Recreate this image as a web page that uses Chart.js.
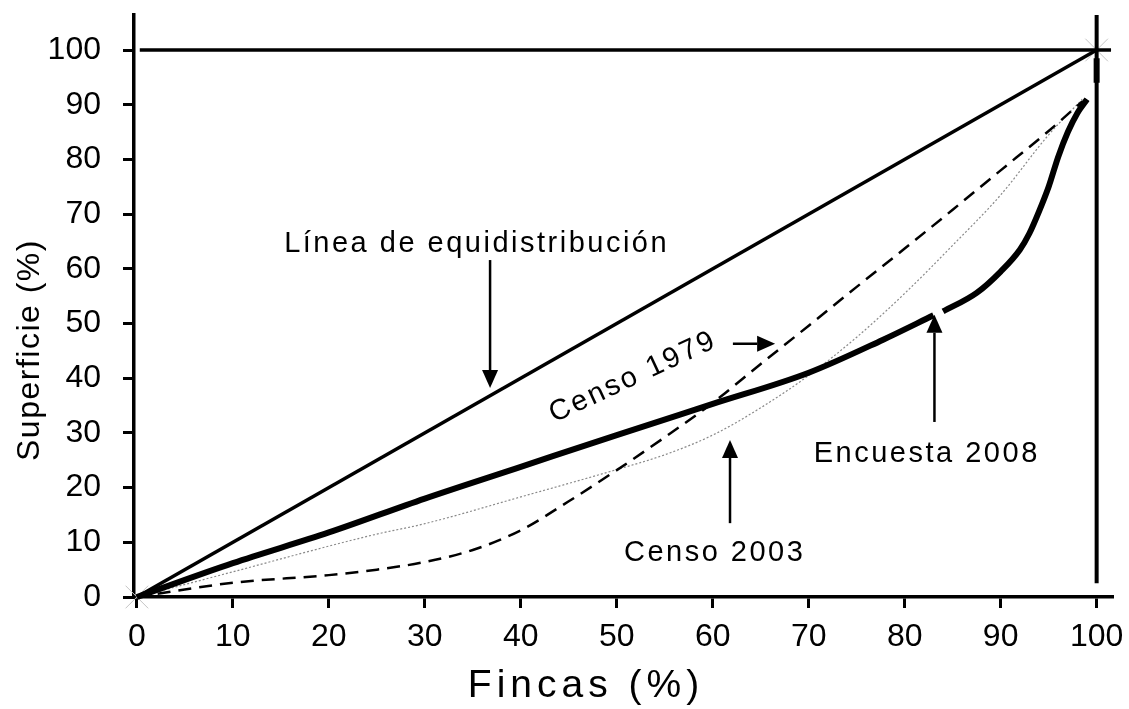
<!DOCTYPE html>
<html>
<head>
<meta charset="utf-8">
<script src="https://cdn.jsdelivr.net/npm/chart.js@4.4.1/dist/chart.umd.min.js"></script>
<style>
  html, body { margin: 0; padding: 0; background: #fff; }
  #wrap { width: 1129px; height: 709px; }
</style>
</head>
<body>
<div id="wrap"><canvas id="lorenz"></canvas></div>
<script>
// Curvas de Lorenz – fincas vs superficie

// Tick labels
const fincasTicks = [0, 10, 20, 30, 40, 50, 60, 70, 80, 90, 100];
const superficieTicks = [0, 10, 20, 30, 40, 50, 60, 70, 80, 90, 100];

// Línea de equidistribución
const equiX = [0, 100];
const equiY = [0, 100];

// Censo 1979 (dashed)
const censo1979X = [0, 10, 20, 25, 30, 35, 40, 45, 50, 55, 60, 65, 70, 75, 80, 85, 90, 95, 98.5];
const censo1979Y = [0, 2.6, 4, 5, 6.4, 8.6, 12.2, 17.5, 23.2, 29.2, 35.5, 42.6, 49.6, 56.7, 63.7, 70.8, 78, 85.2, 90.6];

// Censo 2003 (thin dotted grey)
const censo2003X = [0, 10, 20, 25, 30, 40, 50, 55, 60, 65, 70, 75, 80, 85, 90, 95, 98.5];
const censo2003Y = [0, 4.6, 9.3, 11.5, 13.4, 18.3, 23.3, 26, 29.6, 34.6, 40.5, 47.5, 55.5, 64.3, 73.5, 84.5, 91];

// Encuesta 2008 (thick) – null marks the small breaks in the curve
const encuestaX = [0, 10, 20, 30, 40, 50, 60, 70, 77.7, 83, 84, 84, 87.5, 90, 92, 93, 94, 95, 96, 97, 98, 99, 99.5, 100, 100];
const encuestaY = [0, 6.2, 11.8, 18, 23.8, 29.6, 35.3, 41, 47, 51.5, null, 52.2, 55.6, 59.5, 63.5, 66.5, 70.5, 75, 80.5, 85, 88.5, 91, null, 94, 98.5];

// Marco superior y derecho
const topLineX = [0.3, 101.5];
const topLineY = [100, 100];
const rightLineX = [100, 100];
const rightLineY = [2.5, 106.4];

// Marcas en los extremos
const endMarkX = [0, 100];
const endMarkY = [0, 100];

const zip = (xs, ys) => xs.map((x, i) => ({ x: x, y: ys[i] }));

const FONT = '"Liberation Sans", Arial, sans-serif';

// Annotations (text + arrows), placed in data coordinates
const labels = [
    { text: 'Línea de equidistribución', x: 35.4, y: 63.1, rot: 0 },
    { text: 'Censo 1979', x: 51.7, y: 40.2, rot: -25, middle: true },
    { text: 'Censo 2003', x: 60.2, y: 6.6, rot: 0 },
    { text: 'Encuesta 2008', x: 82.3, y: 24.7, rot: 0 }
];
const arrows = [
    { x1: 36.8, y1: 61.6, x2: 36.8, y2: 38.2 },
    { x1: 62.1, y1: 46.3, x2: 66.5, y2: 46.3 },
    { x1: 61.8, y1: 13.5, x2: 61.8, y2: 28.7 },
    { x1: 83.1, y1: 32.0, x2: 83.1, y2: 51.6 }
];

const annotatePlugin = {
    id: 'annotate',
    afterDraw(chart) {
        const ctx = chart.ctx;
        const xs = chart.scales.x, ys = chart.scales.y;
        ctx.save();
        ctx.fillStyle = '#000';
        ctx.strokeStyle = '#000';

        // texts
        ctx.font = '29px ' + FONT;
        ctx.letterSpacing = '2.5px';
        ctx.textAlign = 'center';
        labels.forEach(l => {
            const px = xs.getPixelForValue(l.x), py = ys.getPixelForValue(l.y);
            ctx.save();
            ctx.translate(px, py);
            ctx.rotate(l.rot * Math.PI / 180);
            ctx.textBaseline = l.middle ? 'middle' : 'alphabetic';
            ctx.fillText(l.text, 0, 0);
            ctx.restore();
        });

        // arrows
        arrows.forEach(a => {
            const x1 = xs.getPixelForValue(a.x1), y1 = ys.getPixelForValue(a.y1);
            const x2 = xs.getPixelForValue(a.x2), y2 = ys.getPixelForValue(a.y2);
            const ang = Math.atan2(y2 - y1, x2 - x1);
            const len = 18, half = 8;
            const bx = x2 - len * Math.cos(ang), by = y2 - len * Math.sin(ang);
            ctx.lineWidth = 2.5;
            ctx.beginPath();
            ctx.moveTo(x1, y1);
            ctx.lineTo(bx, by);
            ctx.stroke();
            ctx.beginPath();
            ctx.moveTo(x2, y2);
            ctx.lineTo(bx + half * Math.sin(ang), by - half * Math.cos(ang));
            ctx.lineTo(bx - half * Math.sin(ang), by + half * Math.cos(ang));
            ctx.closePath();
            ctx.fill();
        });

        // axis titles
        ctx.textBaseline = 'middle';
        ctx.letterSpacing = '5px';
        ctx.font = '39px ' + FONT;
        ctx.fillText('Fincas (%)', 586, 686);
        ctx.letterSpacing = '1.5px';
        ctx.font = '32px ' + FONT;
        ctx.save();
        ctx.translate(30, 350);
        ctx.rotate(-Math.PI / 2);
        ctx.fillText('Superficie (%)', 0, 0);
        ctx.restore();
        ctx.restore();
    }
};

const axisCommon = {
    type: 'linear',
    border: { display: true, color: '#000', width: 3.5 },
    grid: { display: true, drawOnChartArea: false, drawTicks: true, tickLength: 11, color: '#000', lineWidth: 3 },
    ticks: { color: '#000', font: { family: FONT, size: 32 }, callback: v => String(v) }
};

// no label-overflow padding, so the plot area sits exactly where the layout says
const noPad = s => { s.paddingTop = 0; s.paddingBottom = 0; s.paddingLeft = 0; s.paddingRight = 0; };

new Chart(document.getElementById('lorenz'), {
    type: 'scatter',
    data: {
        datasets: [
            { label: 'Encuesta 2008', data: zip(encuestaX, encuestaY), showLine: true, borderColor: '#000', borderWidth: 6, pointRadius: 0, cubicInterpolationMode: 'monotone', spanGaps: false, clip: false },
            { label: 'Línea de equidistribución', data: zip(equiX, equiY), showLine: true, borderColor: '#000', borderWidth: 3.5, pointRadius: 0 },
            { label: 'Censo 1979', data: zip(censo1979X, censo1979Y), showLine: true, borderColor: '#000', borderWidth: 2.5, borderDash: [13, 8], pointRadius: 0, cubicInterpolationMode: 'monotone' },
            { label: 'Censo 2003', data: zip(censo2003X, censo2003Y), showLine: true, borderColor: '#8a8a8a', borderWidth: 1.2, borderDash: [2, 2], pointRadius: 0, cubicInterpolationMode: 'monotone' },
            { label: 'top', data: zip(topLineX, topLineY), showLine: true, borderColor: '#000', borderWidth: 3.5, pointRadius: 0, clip: false },
            { label: 'right', data: zip(rightLineX, rightLineY), showLine: true, borderColor: '#000', borderWidth: 4, pointRadius: 0, clip: false },
            { label: 'marks', data: zip(endMarkX, endMarkY), showLine: false, pointStyle: 'crossRot', pointRadius: 16, borderColor: '#c4c4c4', borderWidth: 1, backgroundColor: 'transparent', clip: false }
        ]
    },
    options: {
        responsive: true,
        maintainAspectRatio: false,
        animation: false,
        layout: { autoPadding: false, padding: { top: 15, right: 17, left: 0, bottom: 0 } },
        plugins: { legend: { display: false }, tooltip: { enabled: false } },
        scales: {
            x: Object.assign({}, axisCommon, {
                min: -0.3, max: 101.6,
                ticks: Object.assign({}, axisCommon.ticks, { padding: 10, maxRotation: 0 }),
                afterBuildTicks: s => { s.ticks = fincasTicks.map(v => ({ value: v })); },
                afterFit: s => { s.height = 112; noPad(s); }
            }),
            y: Object.assign({}, axisCommon, {
                min: 0, max: 106.4,
                ticks: Object.assign({}, axisCommon.ticks, { padding: 22 }),
                afterBuildTicks: s => { s.ticks = superficieTicks.map(v => ({ value: v })); },
                afterFit: s => { s.width = 134; noPad(s); }
            })
        }
    },
    plugins: [annotatePlugin]
});
</script>
</body>
</html>
